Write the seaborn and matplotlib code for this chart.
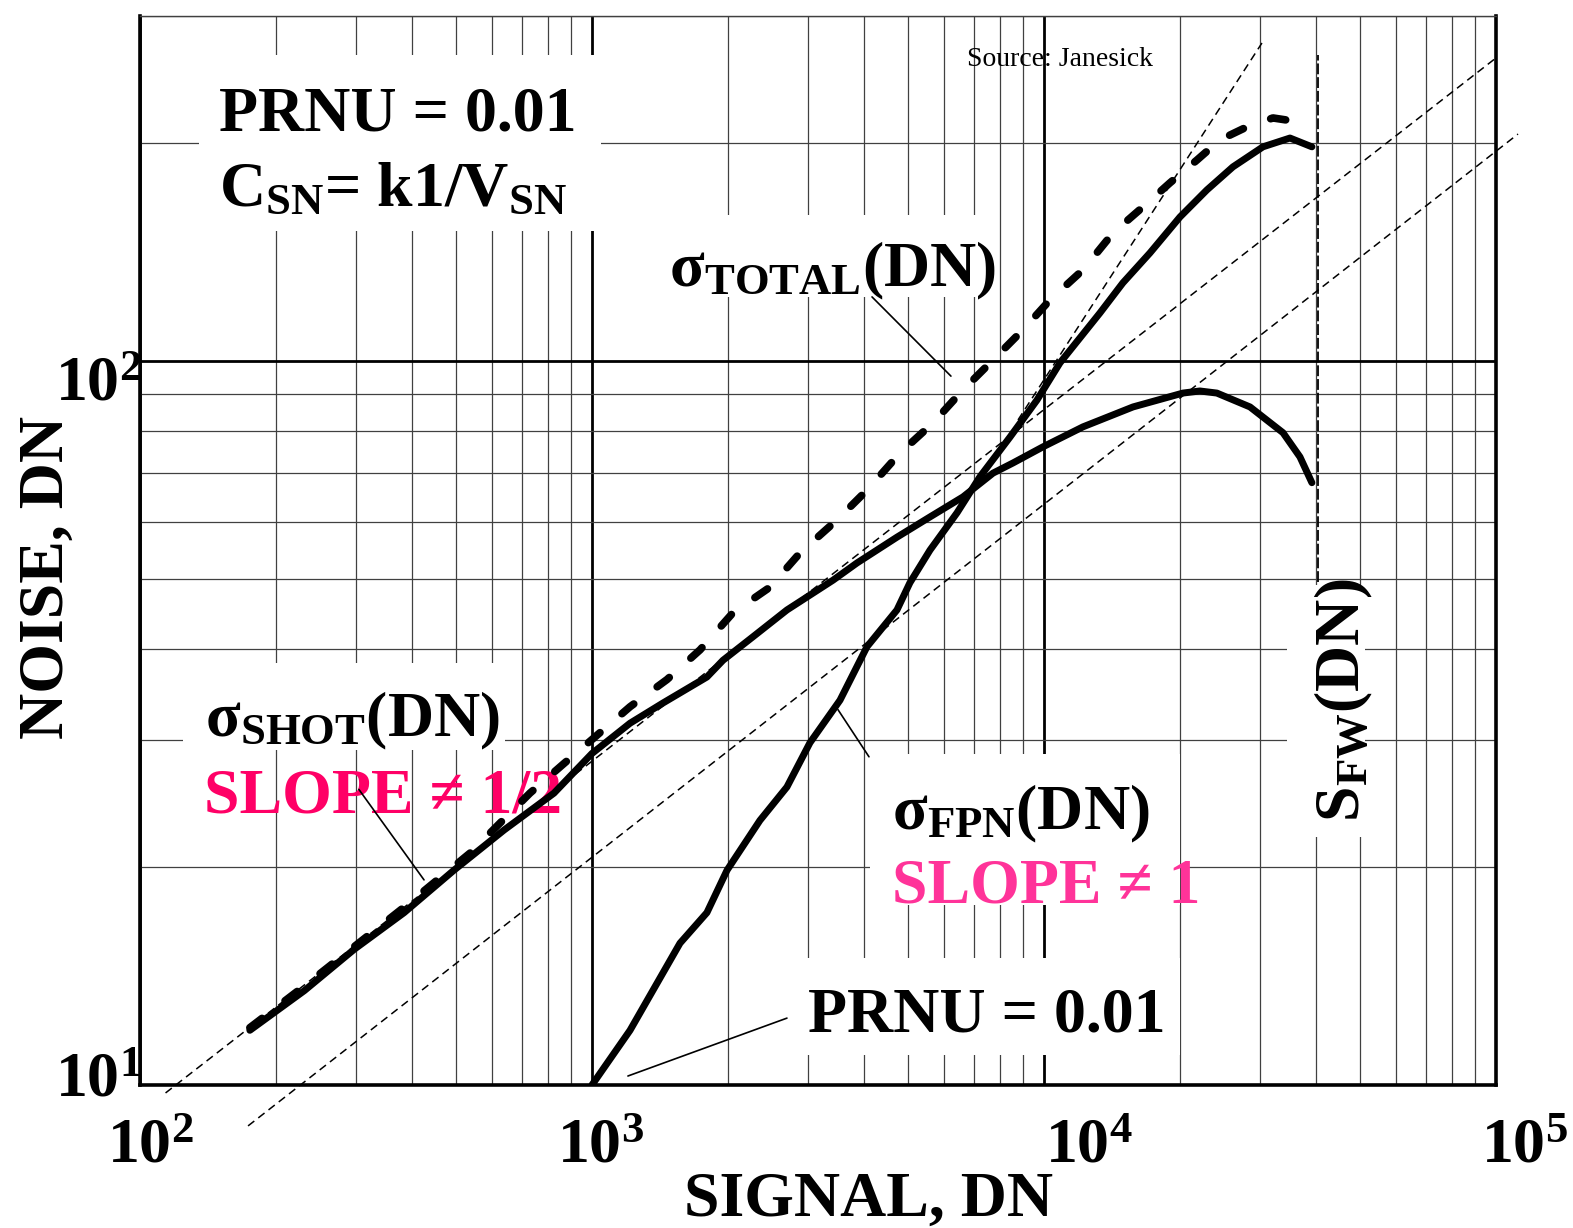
import numpy as np
import matplotlib
matplotlib.use("Agg")
import matplotlib.pyplot as plt
import matplotlib.transforms as mtransforms
from matplotlib.patches import Rectangle
from matplotlib.ticker import LogLocator, NullFormatter
import seaborn as sns

# ==========================================
# DATA
# ==========================================
shot_signal = [175, 231, 298, 384, 495, 639, 824, 1000, 1214, 1436, 1796, 1949, 2271, 2700,
               3414, 3857, 4729, 5596, 6620, 7714, 8541, 9949, 12200, 15740, 20300, 22130,
               24130, 28570, 33800, 36850, 39160]
shot_noise = [11.9, 13.5, 15.4, 17.3, 19.8, 22.5, 25.3, 28.7, 31.6, 33.7, 36.6, 38.6, 41.6, 45.3,
              49.8, 52.6, 57.1, 60.9, 64.9, 70.0, 72.3, 76.1, 81.1, 86.4, 90.3, 90.9,
              90.3, 86.4, 79.6, 73.7, 67.9]

fpn_signal = [1000, 1214, 1566, 1796, 1990, 2353, 2700, 3036, 3538, 4059, 4729, 5052, 5596,
              6422, 7218, 8411, 9650, 10850, 13300, 14950, 17160, 20000, 22940, 26190, 30520,
              35020, 39160]
fpn_noise = [10.0, 11.9, 15.7, 17.3, 19.8, 23.2, 25.8, 29.7, 34.0, 40.3, 45.3, 49.4, 54.8,
             61.7, 69.2, 78.5, 88.3, 99.4, 116.5, 128.2, 141.0, 158.1, 172.3, 185.4, 197.6,
             203.2, 197.6]

total_signal = [175, 231, 384, 537, 729, 867, 1000, 1214, 1465, 1734, 2051, 2476, 2885, 3483,
                4059, 4802, 5680, 6620, 7714, 8985, 10310, 12200, 14210, 16560, 19000, 21810,
                24510, 28120, 32110, 36850, 39160]
total_noise = [12.0, 13.7, 17.6, 20.9, 25.3, 27.8, 30.0, 33.3, 36.3, 39.9, 44.9, 48.7, 54.3, 60.3,
               66.3, 74.6, 82.1, 91.2, 100.3, 110.4, 121.4, 133.6, 150.2, 163.2, 176.2, 189.5,
               202.0, 210.5, 216.6, 213.8, 209.8]

# thin dashed reference lines (end points)
ref_half_a_signal = [113.9, 100000]
ref_half_a_noise = [9.75, 262.1]
ref_half_b_signal = [173.4, 111900]
ref_half_b_noise = [8.78, 205.8]
ref_one_signal = [8762, 30360]
ref_one_noise = [82.9, 274.9]
full_well_signal = [40400, 40400]
full_well_noise = [49.5, 264.7]

# leader lines from labels to curves
leader_total = ([4165, 6226], [122.6, 95.3])
leader_shot = ([305, 425], [25.6, 19.2])
leader_fpn = ([3501, 4101], [33.0, 28.4])
leader_prnu = ([1201, 2700], [10.29, 12.37])

x_ticks = [1e2, 1e3, 1e4, 1e5]
x_ticklabels = ["10$^{2}$", "10$^{3}$", "10$^{4}$", "10$^{5}$"]
y_ticks = [10, 100]
y_ticklabels = ["10$^{1}$", "10$^{2}$"]

# ==========================================
# STYLE
# ==========================================
sns.set_style("white")
plt.rcParams["font.family"] = ["Liberation Serif", "DejaVu Serif"]
plt.rcParams["font.weight"] = "bold"
plt.rcParams["text.color"] = "black"
plt.rcParams["axes.labelcolor"] = "black"
plt.rcParams["xtick.color"] = "black"
plt.rcParams["ytick.color"] = "black"
plt.rcParams["mathtext.fontset"] = "custom"
plt.rcParams["mathtext.rm"] = "Liberation Serif:bold"
plt.rcParams["mathtext.it"] = "Liberation Serif:italic:bold"
plt.rcParams["mathtext.bf"] = "Liberation Serif:bold"
plt.rcParams["mathtext.default"] = "rm"

FS = 46
PINK_A = "#ff0066"
PINK_B = "#ff3399"

fig = plt.figure(figsize=(15.73, 12.28), dpi=100)
ax = fig.add_axes([0.0890, 0.11645, 0.8620, 0.8709])
ax.set_xscale("log")
ax.set_yscale("log")

# ==========================================
# CURVES
# ==========================================
thin = dict(color="black", linewidth=1.1, linestyle=(0, (5.2, 3.3)), clip_on=False,
            estimator=None, sort=False, zorder=2.5)
sns.lineplot(x=ref_half_a_signal, y=ref_half_a_noise, ax=ax, **thin)
sns.lineplot(x=ref_half_b_signal, y=ref_half_b_noise, ax=ax, **thin)
sns.lineplot(x=ref_one_signal, y=ref_one_noise, ax=ax, **thin)
sns.lineplot(x=full_well_signal, y=full_well_noise, ax=ax, color="black", linewidth=1.3,
             linestyle=(0, (6, 1.6)), estimator=None, sort=False, zorder=2.5)

sns.lineplot(x=shot_signal, y=shot_noise, ax=ax, color="black", linewidth=5.0,
             solid_capstyle="round", solid_joinstyle="round", estimator=None, sort=False, zorder=4)
sns.lineplot(x=fpn_signal, y=fpn_noise, ax=ax, color="black", linewidth=5.0,
             solid_capstyle="round", solid_joinstyle="round", estimator=None, sort=False, zorder=4)
sns.lineplot(x=total_signal, y=total_noise, ax=ax, color="black", linewidth=5.5,
             linestyle=(0, (2.0, 3.8)), dash_capstyle="round", estimator=None, sort=False, zorder=4)

for xs, ys in (leader_total, leader_shot, leader_fpn, leader_prnu):
    sns.lineplot(x=xs, y=ys, ax=ax, color="black", linewidth=1.2, estimator=None, sort=False, zorder=4)

# ==========================================
# AXES, GRID
# ==========================================
ax.set_xlim(1e2, 1e5)
ax.set_ylim(10, 300)
for axis in (ax.xaxis, ax.yaxis):
    axis.set_minor_locator(LogLocator(base=10, subs=np.arange(2, 10), numticks=20))
    axis.set_minor_formatter(NullFormatter())
ax.set_axisbelow(True)
ax.grid(True, which="major", color="black", linewidth=2.0)
ax.grid(True, which="minor", color="#404040", linewidth=0.9)

ax.set_xticks(x_ticks, labels=x_ticklabels)
ax.set_yticks(y_ticks, labels=y_ticklabels)
ax.tick_params(which="both", length=0, labelsize=FS, labelcolor="black")
ax.tick_params(axis="x", pad=24)
ax.tick_params(axis="y", pad=0)

for lbl, dx in zip(ax.get_xticklabels(), [10, 9, 45, 29]):
    lbl.set_transform(lbl.get_transform() + mtransforms.ScaledTranslation(dx / 100, 0, fig.dpi_scale_trans))
for lbl, dy in zip(ax.get_yticklabels(), [10, -18]):
    lbl.set_transform(lbl.get_transform() + mtransforms.ScaledTranslation(2 / 100, dy / 100, fig.dpi_scale_trans))

for s in ("left", "bottom", "right"):
    ax.spines[s].set_linewidth(2.6)
    ax.spines[s].set_color("black")
ax.spines["top"].set_linewidth(1.0)
ax.spines["top"].set_color("#404040")

ax.set_xlabel("SIGNAL, DN", fontsize=FS, fontweight="bold", color="black")
ax.xaxis.set_label_coords(0.5376, -0.0814)
ax.set_ylabel("NOISE, DN", fontsize=FS, fontweight="bold", color="black")
ax.yaxis.set_label_coords(-0.0465, 0.4743)

# ==========================================
# LABEL BOXES AND TEXT
# ==========================================
boxes = [(0.0435, 0.7989, 0.2965, 0.1646),
         (0.3761, 0.7371, 0.2471, 0.0767),
         (0.0317, 0.3134, 0.2375, 0.0814),
         (0.5383, 0.1684, 0.2286, 0.1413),
         (0.4794, 0.0281, 0.2876, 0.0907),
         (0.8459, 0.2320, 0.0575, 0.2357)]
for x0, y0, w, h in boxes:
    ax.add_patch(Rectangle((x0, y0), w, h, transform=ax.transAxes, facecolor="white",
                           edgecolor="none", zorder=1))

txt = dict(transform=ax.transAxes, fontsize=FS, fontweight="bold", ha="left", va="baseline", zorder=2)
ax.text(0.0583, 0.8925, "PRNU = 0.01", color="black", **txt)
ax.text(0.0583, 0.8213, r"C$_{\mathrm{SN}}$= k1/V$_{\mathrm{SN}}$", color="black", **txt)
ax.text(0.3901, 0.7465, r"σ$_{\mathrm{TOTAL}}$(DN)", color="black", **txt)
ax.text(0.0479, 0.3255, r"σ$_{\mathrm{SHOT}}$(DN)", color="black", **txt)
ax.text(0.0472, 0.2544, "SLOPE ≠ 1/2", color=PINK_A, **txt)
ax.text(0.5546, 0.2385, r"σ$_{\mathrm{FPN}}$(DN)", color="black", **txt)
ax.text(0.5546, 0.1703, "SLOPE ≠ 1", color=PINK_B, **txt)
ax.text(0.4926, 0.0496, "PRNU = 0.01", color="black", **txt)
ax.text(0.8997, 0.246, r"S$_{\mathrm{FW}}$(DN)", rotation=90, rotation_mode="anchor",
        color="black", **txt)
ax.text(0.61, 0.953, "Source: Janesick", transform=ax.transAxes, fontsize=20, color="black",
        fontweight="normal", ha="left", va="baseline", zorder=2)

fig.savefig("out.png", dpi=100)
